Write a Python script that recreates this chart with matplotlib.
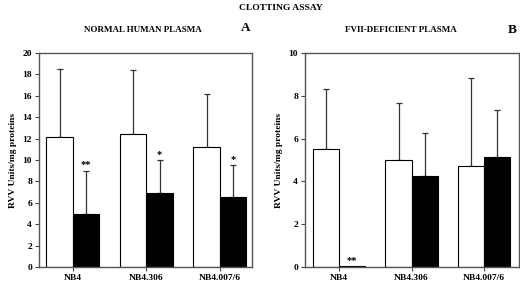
import matplotlib
matplotlib.use("Agg")
import matplotlib.pyplot as plt
import numpy as np

plt.rcParams["font.family"] = ["Liberation Serif", "DejaVu Serif"]
plt.rcParams["font.weight"] = "bold"

groups = ["NB4", "NB4.306", "NB4.007/6"]

# panel A: normal human plasma
a_white = [12.2, 12.4, 11.2]
a_white_top = [18.5, 18.4, 16.2]
a_black = [5.0, 6.95, 6.5]
a_black_top = [9.0, 10.0, 9.5]
a_stars = ["**", "*", "*"]

# panel B: FVII-deficient plasma
b_white = [5.5, 5.0, 4.7]
b_white_top = [8.3, 7.65, 8.85]
b_black = [0.05, 4.25, 5.15]
b_black_top = [0.05, 6.25, 7.35]
b_stars = ["**", "", ""]

fig = plt.figure(figsize=(5.2, 2.83), dpi=100)
axA = fig.add_axes([0.075, 0.0565, 0.41, 0.756])
axB = fig.add_axes([0.5865, 0.0565, 0.4115, 0.756])

w = 0.36
x = np.arange(len(groups))


def panel(ax, white, white_top, black, black_top, stars, ymax, yticks, xlim):
    ax.bar(x - w / 2, white, w, color="white", edgecolor="black", lw=0.8, zorder=2)
    ax.bar(x + w / 2, black, w, color="black", edgecolor="black", lw=0.8, zorder=2)
    for xs, vals, tops in [(x - w / 2, white, white_top), (x + w / 2, black, black_top)]:
        vals = np.array(vals)
        up = np.array(tops) - vals
        keep = up > 0
        ax.errorbar(xs[keep], vals[keep], yerr=[np.zeros(keep.sum()), up[keep]],
                    fmt="none", ecolor="#333333", elinewidth=0.9, capsize=2.3,
                    capthick=0.9, zorder=1)
    for xi, top, s in zip(x + w / 2, black_top, stars):
        if s:
            ax.annotate(s, xy=(xi, top), xytext=(0, 1), textcoords="offset points",
                        ha="center", va="bottom", fontsize=7.5, fontweight="bold")
    ax.set_ylim(0, ymax)
    ax.set_xlim(*xlim)
    ax.set_yticks(yticks)
    ax.set_xticks(x)
    ax.set_xticklabels(groups)
    ax.tick_params(labelsize=6.8, length=3, width=0.8, color="#444444", pad=2)
    for s in ax.spines.values():
        s.set_linewidth(1.0)
        s.set_color("#555555")
    ax.set_ylabel("RVV Units/mg proteins", fontsize=6.8, fontweight="bold", labelpad=4)


panel(axA, a_white, a_white_top, a_black, a_black_top, a_stars, 20,
      range(0, 21, 2), (-0.46, 2.44))
panel(axB, b_white, b_white_top, b_black, b_black_top, b_stars, 10,
      range(0, 11, 2), (-0.47, 2.48))

fig.text(0.54, 0.972, "CLOTTING ASSAY", ha="center", va="center", fontsize=6.8, fontweight="bold")
fig.text(0.275, 0.893, "NORMAL HUMAN PLASMA", ha="center", va="center", fontsize=6.5, fontweight="bold")
fig.text(0.473, 0.9, "A", ha="center", va="center", fontsize=9.5, fontweight="bold")
fig.text(0.77, 0.893, "FVII-DEFICIENT PLASMA", ha="center", va="center", fontsize=6.5, fontweight="bold")
fig.text(0.985, 0.893, "B", ha="center", va="center", fontsize=9.5, fontweight="bold")

fig.savefig("out.png", dpi=100)
